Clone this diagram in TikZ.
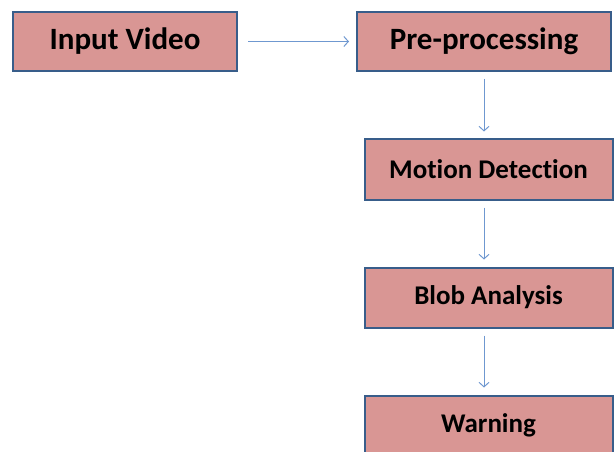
\documentclass[tikz,border=0pt]{standalone}
\usepackage{fontspec}
\setmainfont{Carlito}[Ligatures=NoCommon]
\usetikzlibrary{arrows.meta}
\definecolor{boxfill}{HTML}{D99694}
\definecolor{boxline}{HTML}{385D8A}
\definecolor{flowline}{HTML}{6F98D0}
\begin{document}
\begin{tikzpicture}[x=1pt, y=-1pt,
    stage/.style={draw=boxline, line width=2pt, fill=boxfill, inner sep=0pt, minimum height=59pt, font=\bfseries},
    flow/.style={draw=flowline, line width=1pt, -{Straight Barb[length=4.5pt, width=10pt]}}]
            \useasboundingbox (0,0) rectangle (614,452);
            \node [stage, minimum width=224pt, font=\bfseries\fontsize{31}{36}\selectfont] (input) at (125,41.5) {Input Video};
            \node [stage, minimum width=254pt, font=\bfseries\fontsize{31}{36}\selectfont] (pre) at (484,41.5) {Pre-processing};

            \node [stage, minimum width=248pt, minimum height=60pt, font=\bfseries\fontsize{27}{32}\selectfont] (motion) at (488.5,169.5) {Motion Detection};
            \node [stage, minimum width=248pt, minimum height=60pt, font=\bfseries\fontsize{27}{32}\selectfont] (blob) at (488.5,297.5) {Blob Analysis};
            \node [stage, minimum width=248pt, minimum height=60pt, font=\bfseries\fontsize{27}{32}\selectfont] (warn) at (488.5,425.5) {Warning};

            \draw [flow, shorten <=10pt, shorten >=7pt] (input) -- (pre);
            \draw [flow, shorten <=7pt, shorten >=7pt] (pre.south) -- (motion.north -| pre.south);
            \draw [flow, shorten <=7pt, shorten >=7pt] (motion.south -| pre.south) -- (blob.north -| pre.south);
            \draw [flow, shorten <=7pt, shorten >=7pt] (blob.south -| pre.south) -- (warn.north -| pre.south);
        \end{tikzpicture}
\end{document}
